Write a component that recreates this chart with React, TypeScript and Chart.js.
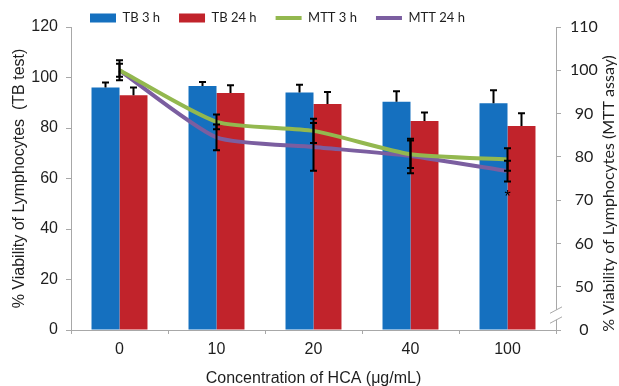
import React, { useEffect, useRef } from 'react';
import { Chart, registerables } from 'chart.js';

Chart.register(...registerables);

const categories = ['0', '10', '20', '40', '100'];
const tb3h = [96, 96.6, 94.1, 90.4, 89.8];
const tb3hErr = [2, 1.6, 3, 4.2, 5.2];
const tb24h = [93, 93.9, 89.5, 82.8, 80.8];
const tb24hErr = [3, 3, 4.8, 3.3, 5];
const mtt3h = [100, 88.1, 86, 80.6, 79.4];
const mtt3hErr = [2.3, 1.7, 2.8, 3.2, 2.6];
const mtt24h = [100, 84.5, 82.3, 80.2, 76.7];
const mtt24hErr = [1.5, 3, 5.5, 4, 2.4];
const mttTickValues = [40, 50, 60, 70, 80, 90, 100, 110];
const mttTickLabels = ['0', '50', '60', '70', '80', '90', '100', '110'];
const significance = ['', '', '', '', '*'];

const BLUE = '#1570BF';
const RED = '#C1232B';
const GREEN = '#93B84F';
const PURPLE = '#7B5EA0';
const AXIS = '#A8A8A8';
const TEXT = '#1e1e1e';

const errorBarPlugin = {
  id: 'errorBars',
  afterDatasetsDraw(chart: any) {
    const ctx = chart.ctx;
    ctx.save();
    ctx.strokeStyle = '#000';
    ctx.lineWidth = 2;
    chart.data.datasets.forEach((ds: any, di: number) => {
      const meta = chart.getDatasetMeta(di);
      const yScale = chart.scales[meta.yAxisID];
      const oneSided = ds.type !== 'line';
      meta.data.forEach((el: any, i: number) => {
        const v = ds.data[i];
        const e = ds.errors[i];
        const x = el.x;
        const yTop = yScale.getPixelForValue(v + e);
        const yBot = oneSided ? yScale.getPixelForValue(v) : yScale.getPixelForValue(v - e);
        ctx.beginPath();
        ctx.moveTo(x, yTop);
        ctx.lineTo(x, yBot);
        ctx.moveTo(x - 3.5, yTop);
        ctx.lineTo(x + 3.5, yTop);
        if (!oneSided) {
          ctx.moveTo(x - 3.5, yBot);
          ctx.lineTo(x + 3.5, yBot);
        }
        ctx.stroke();
      });
    });
    ctx.restore();
  },
};

const decorPlugin = {
  id: 'decor',
  afterLayout(chart: any) {
    const lg = chart.legend;
    if (lg) {
      lg.top += 7.5;
      lg.bottom += 7.5;
    }
  },
  afterDraw(chart: any) {
    const ctx = chart.ctx;
    const yR = chart.scales.yR;
    // axis break marks
    const x0 = yR.left;
    const yA = yR.getPixelForValue(44.6);
    const yB = yR.getPixelForValue(42.3);
    ctx.save();
    ctx.fillStyle = '#fff';
    ctx.beginPath();
    ctx.moveTo(x0 - 6, yA + 3.2);
    ctx.lineTo(x0 + 6, yA - 3.2);
    ctx.lineTo(x0 + 6, yB - 3.2);
    ctx.lineTo(x0 - 6, yB + 3.2);
    ctx.closePath();
    ctx.fill();
    ctx.strokeStyle = AXIS;
    ctx.lineWidth = 1;
    ctx.beginPath();
    ctx.moveTo(x0 - 6, yA + 3.2);
    ctx.lineTo(x0 + 6, yA - 3.2);
    ctx.moveTo(x0 - 6, yB + 3.2);
    ctx.lineTo(x0 + 6, yB - 3.2);
    ctx.stroke();
    // right axis title (reads bottom to top)
    ctx.fillStyle = TEXT;
    ctx.font = '16px Lato, "Liberation Sans", sans-serif';
    ctx.textAlign = 'center';
    ctx.textBaseline = 'middle';
    ctx.translate(yR.right - 10.5, (chart.chartArea.top + chart.chartArea.bottom) / 2 + 15);
    ctx.rotate(-Math.PI / 2);
    ctx.fillText('% Viability of Lymphocytes (MTT assay)', 0, 0);
    ctx.restore();
    // significance marks
    const meta = chart.getDatasetMeta(3);
    ctx.save();
    ctx.fillStyle = '#000';
    ctx.font = '16px "Liberation Sans", Arial, sans-serif';
    ctx.textAlign = 'center';
    ctx.textBaseline = 'alphabetic';
    significance.forEach((s, i) => {
      if (!s) return;
      const x = meta.data[i].x;
      const y = yR.getPixelForValue(mtt24h[i] - mtt24hErr[i]) + 20;
      ctx.fillText(s, x, y);
    });
    ctx.restore();
  },
};

export default function App() {
  const ref = useRef<HTMLCanvasElement>(null);
  useEffect(() => {
    if (!ref.current) return;
    Chart.defaults.font.family = '"Liberation Sans", Arial, sans-serif';
    Chart.defaults.color = TEXT;
    const chart = new Chart(ref.current, {
      type: 'bar',
      data: {
        labels: categories,
        datasets: [
          { type: 'bar', label: 'TB 3 h', data: tb3h, errors: tb3hErr, backgroundColor: BLUE, yAxisID: 'y', order: 1, pointStyle: 'rect' } as any,
          { type: 'bar', label: 'TB 24 h', data: tb24h, errors: tb24hErr, backgroundColor: RED, yAxisID: 'y', order: 1, pointStyle: 'rect' } as any,
          { type: 'line', label: 'MTT 3 h', data: mtt3h, errors: mtt3hErr, borderColor: GREEN, backgroundColor: GREEN, borderWidth: 4, pointRadius: 0, tension: 0.2, yAxisID: 'yR', order: 0, pointStyle: 'line' } as any,
          { type: 'line', label: 'MTT 24 h', data: mtt24h, errors: mtt24hErr, borderColor: PURPLE, backgroundColor: PURPLE, borderWidth: 4, pointRadius: 0, tension: 0.2, yAxisID: 'yR', order: 0, pointStyle: 'line' } as any,
        ],
      },
      options: {
        responsive: false,
        animation: false,
        devicePixelRatio: 1,
        categoryPercentage: 0.577,
        barPercentage: 1,
        layout: { padding: { top: -15, left: 0, right: 0, bottom: 0 } },
        plugins: {
          tooltip: { enabled: false },
          legend: {
            position: 'top',
            align: 'start',
            fullSize: false,
            labels: {
              usePointStyle: true,
              pointStyleWidth: 26,
              boxHeight: 9,
              padding: 19,
              color: TEXT,
              font: { family: 'Lato, "Liberation Sans", sans-serif', size: 13 },
              sort: (a: any, b: any) => a.datasetIndex - b.datasetIndex,
            },
          },
        },
        scales: {
          x: {
            grid: { offset: true, drawOnChartArea: false, tickLength: 4, color: AXIS },
            border: { color: AXIS },
            ticks: { padding: 6, font: { size: 16 }, color: TEXT },
            title: {
              display: true,
              text: 'Concentration of HCA (μg/mL)',
              font: { size: 16, lineHeight: 1 },
              color: TEXT,
              padding: { top: 0, bottom: -1 },
            },
            afterFit: (s: any) => { s.height = 56; },
          },
          y: {
            position: 'left',
            min: 0,
            max: 120,
            ticks: { stepSize: 20, padding: 8, font: { size: 16 }, color: TEXT },
            grid: { drawOnChartArea: false, tickLength: 5, color: AXIS },
            border: { color: AXIS },
            title: {
              display: true,
              text: '% Viability of Lymphocytes  (TB test)',
              font: { size: 16 },
              color: TEXT,
              padding: { top: 10, bottom: 0 },
            },
            afterFit: (s: any) => { s.width = 71; },
          },
          yR: {
            position: 'right',
            min: mttTickValues[0],
            max: mttTickValues[mttTickValues.length - 1],
            ticks: {
              stepSize: 10,
              padding: 9,
              crossAlign: 'center',
              font: { family: 'Lato, "Liberation Sans", sans-serif', size: 16 },
              color: TEXT,
              callback: (v: any) => {
                const idx = mttTickValues.indexOf(Number(v));
                return idx >= 0 ? mttTickLabels[idx] : '';
              },
            },
            grid: { drawOnChartArea: false, tickLength: 5, color: AXIS },
            border: { color: AXIS },
            afterFit: (s: any) => { s.width = 63; },
          },
        },
      } as any,
      plugins: [errorBarPlugin, decorPlugin],
    });
    return () => chart.destroy();
  }, []);
  return (
    <div style={{ position: 'absolute', left: 0, top: 0, width: 619, height: 386 }}>
      <canvas ref={ref} width={619} height={386} style={{ display: 'block' }} />
    </div>
  );
}
